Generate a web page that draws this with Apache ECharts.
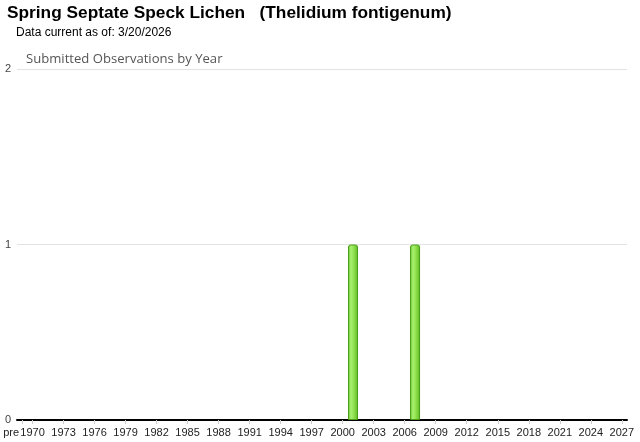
<!DOCTYPE html>
<html><head><meta charset="utf-8">
<script src="https://cdn.jsdelivr.net/npm/echarts@6/dist/echarts.min.js"></script>
<style>html,body{margin:0;padding:0;background:#fff}#c{width:640px;height:442px}</style>
</head><body><div id="c"></div>
<script>
const titleText = 'Spring Septate Speck Lichen   (Thelidium fontigenum)';
const subtitleText = 'Data current as of: 3/20/2026';
const chartLabel = 'Submitted Observations by Year';
const categories = ['pre'];
for (let y = 1970; y <= 2027; y++) categories.push(String(y));
const obsYears = ['2001', '2007'];
const obsCounts = [1, 1];
const values = categories.map(c => { const i = obsYears.indexOf(c); return i >= 0 ? obsCounts[i] : null; });
const yTicks = [0, 1, 2];

const showIdx = (i) => i === 0 || (i - 1) % 3 === 0;
const chart = echarts.init(document.getElementById('c'));
chart.setOption({
  animation: false,
  title: [
    {text: titleText, left: 2, top: 0, textStyle: {fontFamily: 'Liberation Sans, Arial', fontWeight: 'bold', fontSize: 17.3, color: '#000'}},
    {text: subtitleText, left: 11, top: 22, textStyle: {fontFamily: 'Liberation Sans, Arial', fontWeight: 'normal', fontSize: 12, color: '#000'}},
    {text: chartLabel, left: 21, top: 48, textStyle: {fontFamily: 'Open Sans, Liberation Sans', fontWeight: 'normal', fontSize: 13.1, color: '#555'}}
  ],
  grid: {left: 17, right: 13, top: 69, bottom: 22},
  xAxis: {
    type: 'category', data: categories, boundaryGap: true,
    axisLine: {lineStyle: {color: '#000', width: 2}},
    axisTick: {show: true, alignWithLabel: true, interval: (i) => showIdx(i), length: 4, lineStyle: {color: '#ccc'}},
    axisLabel: {interval: (i) => showIdx(i), hideOverlap: false, color: '#222', fontFamily: 'Liberation Sans, Arial', fontSize: 11, margin: 7,
      formatter: (v) => v === 'pre' ? '{p|pre}' : v,
      rich: {p: {padding: [0, 22, 0, 0], color: '#222', fontFamily: 'Liberation Sans, Arial', fontSize: 11}}}
  },
  yAxis: {
    type: 'value', min: 0, max: 2, interval: 1,
    axisLabel: {color: '#444', fontFamily: 'Liberation Sans, Arial', fontSize: 11, margin: 6, formatter: (v) => yTicks.includes(v) ? String(v) : ''},
    splitLine: {lineStyle: {color: '#e3e3e3'}},
    axisLine: {show: false}, axisTick: {show: false}
  },
  series: [{
    type: 'bar', data: values, barWidth: 10,
    itemStyle: {
      color: new echarts.graphic.LinearGradient(0, 0, 1, 0, [
        {offset: 0, color: '#6cc630'}, {offset: 0.3, color: '#a8f070'}, {offset: 0.6, color: '#8ee04c'}, {offset: 1, color: '#5cb824'}
      ]),
      borderColor: '#4a9e18', borderWidth: 1, borderRadius: [2, 2, 0, 0]
    }
  }]
});
</script></body></html>
